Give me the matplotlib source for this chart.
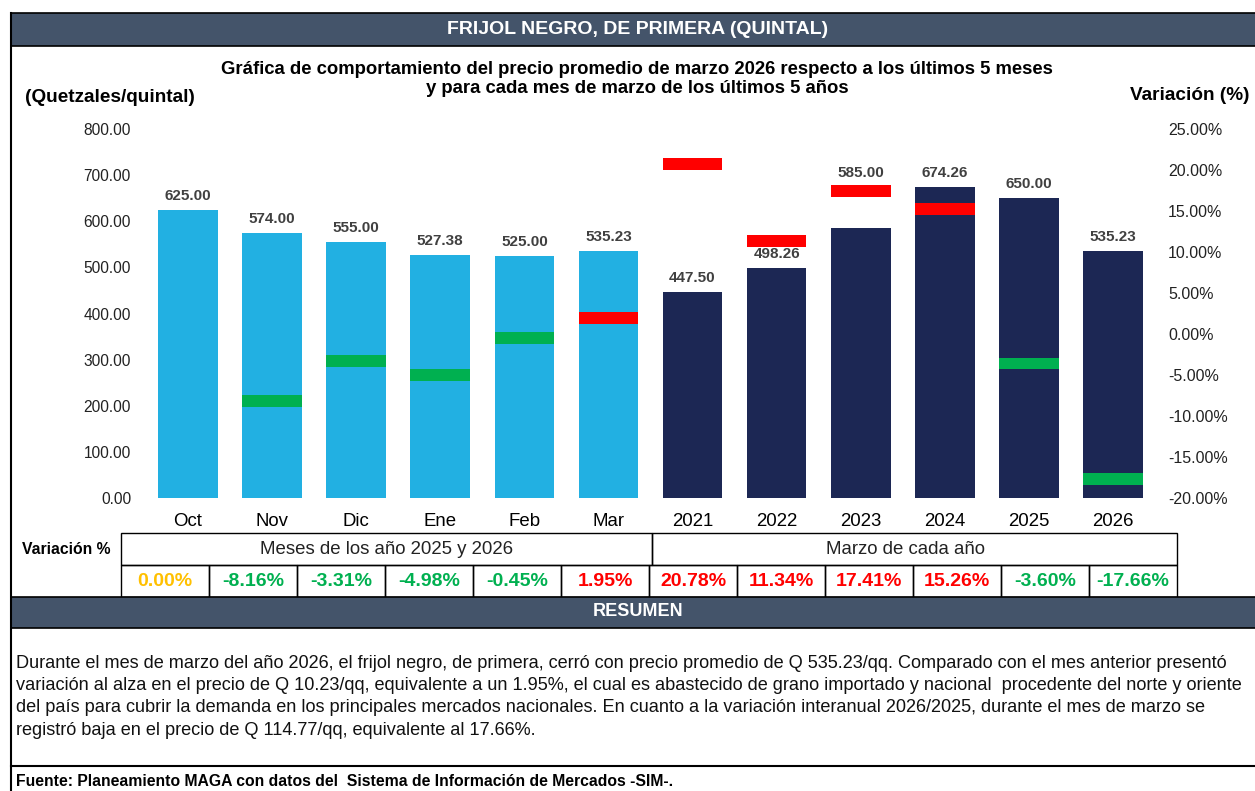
import matplotlib.pyplot as plt
from matplotlib.patches import Rectangle
from matplotlib.ticker import FuncFormatter, MultipleLocator

# datos
categorias = ["Oct", "Nov", "Dic", "Ene", "Feb", "Mar",
              "2021", "2022", "2023", "2024", "2025", "2026"]
precios = [625.00, 574.00, 555.00, 527.38, 525.00, 535.23,
           447.50, 498.26, 585.00, 674.26, 650.00, 535.23]
variacion = [0.00, -8.16, -3.31, -4.98, -0.45, 1.95,
             20.78, 11.34, 17.41, 15.26, -3.60, -17.66]
etiquetas_var = ["0.00%", "-8.16%", "-3.31%", "-4.98%", "-0.45%", "1.95%",
                 "20.78%", "11.34%", "17.41%", "15.26%", "-3.60%", "-17.66%"]

titulo = "FRIJOL NEGRO, DE PRIMERA (QUINTAL)"
subtitulo = ("Gráfica de comportamiento del precio promedio de marzo 2026 respecto a los últimos 5 meses\n"
             "y para cada mes de marzo de los últimos 5 años")
resumen = [
    "Durante el mes de marzo del año 2026, el frijol negro, de primera, cerró con precio promedio de Q 535.23/qq. Comparado con el mes anterior presentó",
    "variación al alza en el precio de Q 10.23/qq, equivalente a un 1.95%, el cual es abastecido de grano importado y nacional  procedente del norte y oriente",
    "del país para cubrir la demanda en los principales mercados nacionales. En cuanto a la variación interanual 2026/2025, durante el mes de marzo se",
    "registró baja en el precio de Q 114.77/qq, equivalente al 17.66%.",
]
fuente = "Fuente: Planeamiento MAGA con datos del  Sistema de Información de Mercados -SIM-."

plt.rcParams["font.family"] = ["Liberation Sans", "DejaVu Sans"]

W, H = 1255, 791
fig = plt.figure(figsize=(W / 100, H / 100), dpi=100)
fig.patch.set_facecolor("white")

SLATE = "#44546A"
CELESTE = "#22B0E2"
NAVY = "#1C2754"
ROJO = "#FF0000"
VERDE = "#00B050"
AMARILLO = "#FFC000"
TEXTO = "#222222"


def fx(px):
    return px / W


def fy(py):
    return 1 - py / H


def caja(x0, y0, x1, y1, fc="none", ec="black", lw=1.0):
    fig.patches.append(Rectangle((fx(x0), fy(y1)), fx(x1) - fx(x0), fy(y0) - fy(y1),
                                 transform=fig.transFigure, facecolor=fc,
                                 edgecolor=ec, linewidth=lw))


# barra de titulo
caja(11, 13, 1262, 46, fc=SLATE, ec="black", lw=1.2)
fig.text(fx(638), fy(30), titulo, color="white", fontsize=14, fontweight="bold",
         ha="center", va="center")
# borde izquierdo
fig.add_artist(plt.Line2D([fx(11), fx(11)], [fy(13), fy(791)], color="black",
                          lw=1.5, transform=fig.transFigure))

fig.text(fx(637), fy(79), subtitulo, fontsize=13.3, fontweight="bold",
         ha="center", va="center", linespacing=1.2)
fig.text(fx(25), fy(97), "(Quetzales/quintal)", fontsize=13.7, fontweight="bold",
         ha="left", va="center")
fig.text(fx(1250), fy(95), "Variación (%)", fontsize=13.7, fontweight="bold",
         ha="right", va="center")

# grafica
ax = fig.add_axes([fx(146), fy(498), fx(1155) - fx(146), fy(129) - fy(498)])
x = list(range(len(categorias)))
colores = [CELESTE] * 6 + [NAVY] * 6
ax.bar(x, precios, width=0.71, color=colores, zorder=2)
# la etiqueta de 2023 va por encima de su marca de variacion
extra = {"2023": 30}
for xi, p, cat in zip(x, precios, categorias):
    ax.annotate(f"{p:.2f}", (xi, p), xytext=(0, 5 + extra.get(cat, 0)),
                textcoords="offset points", ha="center", va="bottom",
                fontsize=11, fontweight="bold", color="#404040", zorder=4)
ax.set_xlim(-0.5, len(categorias) - 0.5)
ax.set_ylim(0, 800)
ax.yaxis.set_major_locator(MultipleLocator(100))
ax.yaxis.set_major_formatter(FuncFormatter(lambda v, _: f"{v:.2f}"))
ax.set_xticks(x)
ax.set_xticklabels(categorias, fontsize=13.4)
ax.tick_params(axis="x", length=0, pad=11)
ax.tick_params(axis="y", length=0, pad=10.8, labelsize=11.2, labelcolor=TEXTO)
for s in ax.spines.values():
    s.set_visible(False)

ax2 = ax.twinx()
ax2.set_ylim(-20, 25)
ax2.yaxis.set_major_locator(MultipleLocator(5))
ax2.yaxis.set_major_formatter(FuncFormatter(lambda v, _: f"{v:.2f}%"))
ax2.tick_params(axis="y", length=0, pad=9.4, labelsize=11.5, labelcolor=TEXTO)
for s in ax2.spines.values():
    s.set_visible(False)
alto = 1.45
for xi, v in zip(x, variacion):
    if v == 0:
        continue
    c = ROJO if v > 0 else VERDE
    ax2.bar(xi, alto, bottom=v - alto / 2, width=0.71, color=c, zorder=3)

# tabla de variacion
fig.text(fx(66), fy(549), "Variación %", fontsize=11.3, fontweight="bold",
         ha="center", va="center")
bordes = [121 + i * 88.0 for i in range(12)] + [1177]
caja(121, 533, 652, 565)
caja(652, 533, 1177, 565)
fig.text(fx(387), fy(549), "Meses de los año 2025 y 2026", fontsize=13.4,
         ha="center", va="center", color=TEXTO)
fig.text(fx(905), fy(549), "Marzo de cada año", fontsize=13.4,
         ha="center", va="center", color=TEXTO)
for i, (v, lab) in enumerate(zip(variacion, etiquetas_var)):
    x0, x1 = bordes[i], bordes[i + 1]
    caja(x0, 565, x1, 597)
    c = AMARILLO if v == 0 else (ROJO if v > 0 else VERDE)
    fig.text(fx((x0 + x1) / 2), fy(581), lab, fontsize=14, fontweight="bold",
             color=c, ha="center", va="center")

# resumen
caja(11, 597, 1262, 628, fc=SLATE, ec="black", lw=1.2)
fig.text(fx(638), fy(612), "RESUMEN", color="white", fontsize=13,
         fontweight="bold", ha="center", va="center")
for i, linea in enumerate(resumen):
    fig.text(fx(16), fy(663 + i * 22.4), linea, fontsize=13.05,
             ha="left", va="center", color="#111111")

fig.add_artist(plt.Line2D([fx(11), 1], [fy(766), fy(766)], color="black",
                          lw=1.5, transform=fig.transFigure))
fig.text(fx(16), fy(781), fuente, fontsize=11.3, fontweight="bold",
         ha="left", va="center")

fig.savefig("out.png", dpi=100)
